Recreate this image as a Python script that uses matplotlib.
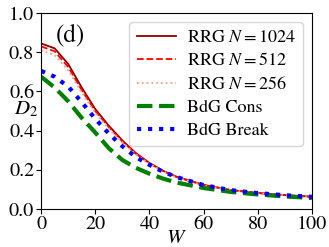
import matplotlib
matplotlib.use("Agg")
import matplotlib.pyplot as plt

plt.rcParams['font.family'] = 'STIXGeneral'
plt.rcParams['mathtext.fontset'] = 'stix'

# D2 vs disorder W
W = [0, 5, 10, 15, 20, 25, 30, 35, 40, 45, 50, 60, 70, 80, 90, 100]
rrg_1024 = [0.845, 0.82, 0.74, 0.62, 0.51, 0.425, 0.35, 0.285, 0.235, 0.195, 0.165, 0.123, 0.097, 0.082, 0.071, 0.063]
rrg_512 = [0.83, 0.805, 0.725, 0.607, 0.50, 0.418, 0.345, 0.282, 0.233, 0.193, 0.163, 0.122, 0.096, 0.081, 0.070, 0.062]
rrg_256 = [0.81, 0.785, 0.708, 0.594, 0.49, 0.41, 0.34, 0.279, 0.231, 0.192, 0.162, 0.121, 0.096, 0.081, 0.070, 0.062]
bdg_cons = [0.675, 0.62, 0.55, 0.465, 0.39, 0.31, 0.25, 0.21, 0.18, 0.155, 0.135, 0.107, 0.087, 0.074, 0.064, 0.056]
bdg_break = [0.705, 0.675, 0.625, 0.545, 0.46, 0.385, 0.32, 0.265, 0.225, 0.19, 0.163, 0.122, 0.096, 0.081, 0.070, 0.062]

fig = plt.figure(figsize=(3.29, 2.47), dpi=100)
ax = fig.add_axes([0.125, 0.154, 0.823, 0.793])

ax.plot(W, rrg_1024, color='darkred', lw=1.3, label=r'RRG $N=1024$')
ax.plot(W, rrg_512, color='red', lw=1.3, ls='--', label=r'RRG $N=512$')
ax.plot(W, rrg_256, color='#ff9f80', lw=1.3, ls=':', label=r'RRG $N=256$')
ax.plot(W, bdg_cons, color='green', lw=3, ls='--', label='BdG Cons')
ax.plot(W, bdg_break, color='blue', lw=3, ls=':', label='BdG Break')

ax.set_xlim(0, 100)
ax.set_ylim(0, 1.0)
ax.set_xticks([0, 20, 40, 60, 80, 100])
ax.set_yticks([0.0, 0.2, 0.4, 0.6, 0.8, 1.0])
ax.tick_params(labelsize=14.5, direction='out', length=3.5, pad=1.5)
ax.set_xlabel(r'$W$', fontsize=15, va='center')
ax.xaxis.set_label_coords(0.5, -0.15)
ax.set_ylabel(r'$D_2$', fontsize=15, rotation=0, va='center', ha='center')
ax.yaxis.set_label_coords(-0.055, 0.51)
ax.text(0.055, 0.95, '(d)', transform=ax.transAxes, fontsize=18, va='top')
ax.legend(fontsize=13, loc='upper right', handlelength=2.2, labelspacing=0.36,
          borderaxespad=0.5, handletextpad=0.6)

fig.savefig('out.png', dpi=100)
